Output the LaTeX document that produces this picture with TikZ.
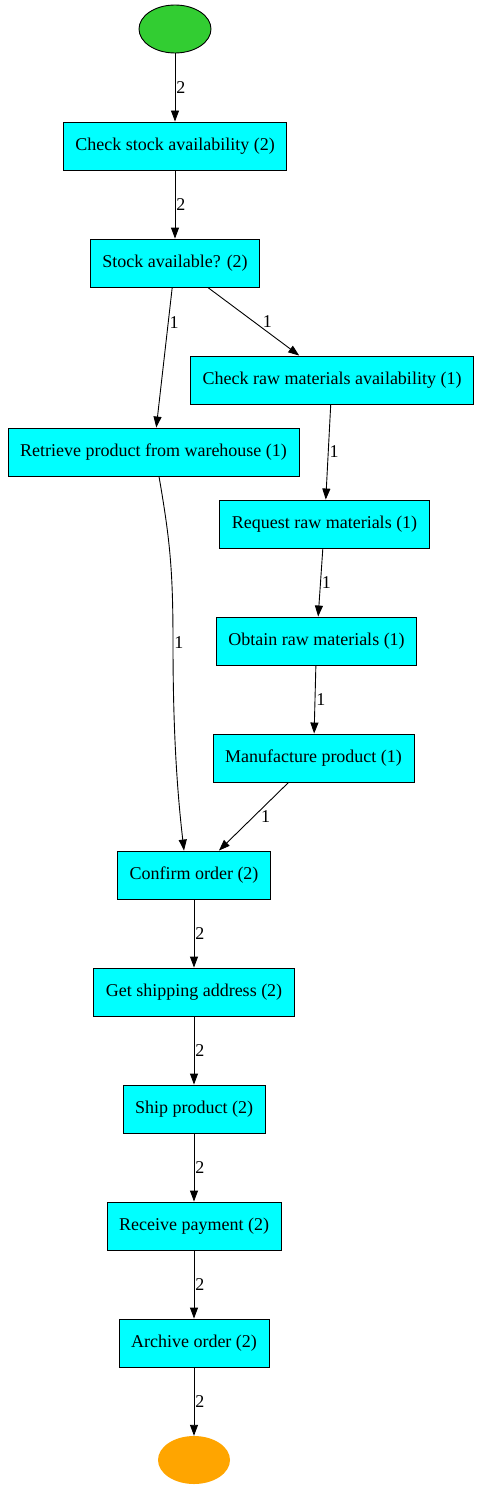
\documentclass[tikz,border=0pt]{standalone}
\usepackage{fontspec}
\setmainfont{Liberation Serif}
\usepackage{xcolor}
\usepackage{tikz}
\usetikzlibrary{arrows.meta}
\usetikzlibrary{shapes.geometric}

\definecolor{taskcyan}{RGB}{0,255,255}
\definecolor{startgreen}{RGB}{50,205,50}
\definecolor{endorange}{RGB}{255,165,0}

\begin{document}
\begin{tikzpicture}[x=1pt,y=-1pt,
  font=\fontsize{18}{21}\selectfont,
  >={Triangle[length=11pt,width=8pt]},
  task/.style={draw,fill=taskcyan,rectangle,minimum height=48pt,inner xsep=12pt,line width=0.9pt},
  terminal/.style={ellipse,minimum width=72pt,minimum height=48pt,inner sep=0pt},
  flow/.style={->,line width=0.9pt},
  lbl/.style={right,inner sep=1pt}]

\useasboundingbox (0,0) rectangle (478,1490);

% Start and end
\node[terminal,draw,fill=startgreen,line width=0.9pt] (start) at (175,29) {};
\node[terminal,fill=endorange] (end) at (194,1460) {};

% Tasks
\node[task] (checkstock) at (175,146) {Check stock availability (2)};
\node[task] (stockavail) at (175,263) {Stock available? (2)};
\node[task] (checkraw) at (332,380) {Check raw materials availability (1)};
\node[task] (retrieve) at (153.5,452) {Retrieve product from warehouse (1)};
\node[task] (request) at (324.5,524) {Request raw materials (1)};
\node[task] (obtain) at (316.5,641) {Obtain raw materials (1)};
\node[task] (manufacture) at (313.5,758) {Manufacture product (1)};
\node[task] (confirm) at (194,875) {Confirm order (2)};
\node[task] (address) at (194,992) {Get shipping address (2)};
\node[task] (ship) at (194,1109) {Ship product (2)};
\node[task] (payment) at (194,1226) {Receive payment (2)};
\node[task] (archive) at (194,1343) {Archive order (2)};

% Main line
\draw[flow] (start) -- node[lbl] {2} (checkstock);
\draw[flow] (checkstock) -- node[lbl] {2} (stockavail);

% Branches
\draw[flow] (stockavail) -- node[lbl,pos=0.25] {1} (retrieve);
\draw[flow] (stockavail) -- node[lbl,xshift=8pt] {1} (checkraw);
\draw[flow] (checkraw) -- node[lbl] {1} (request);
\draw[flow] (request) -- node[lbl] {1} (obtain);
\draw[flow] (obtain) -- node[lbl] {1} (manufacture);
\draw[flow] (manufacture) -- node[lbl,xshift=6pt] {1} (confirm);
\draw[flow] ([xshift=5.5pt]retrieve.south)
  .. controls (170,540) and (173,570) .. (173,643) node[lbl] {1}
  .. controls (173,730) and (177,790) .. ([xshift=-10pt]confirm.north);

% Rest of the order
\draw[flow] (confirm) -- node[lbl] {2} (address);
\draw[flow] (address) -- node[lbl] {2} (ship);
\draw[flow] (ship) -- node[lbl] {2} (payment);
\draw[flow] (payment) -- node[lbl] {2} (archive);
\draw[flow] (archive) -- node[lbl] {2} (end);

\end{tikzpicture}
\end{document}
